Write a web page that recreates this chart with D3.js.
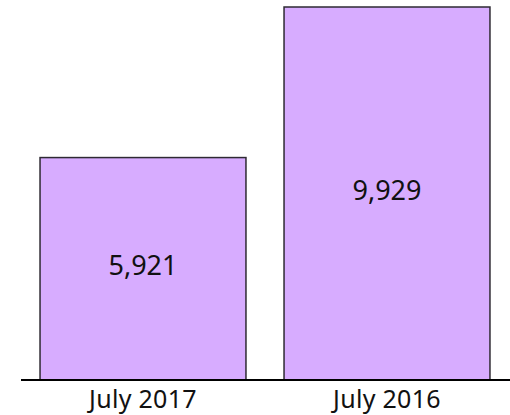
<!DOCTYPE html>
<html>
<head>
<meta charset="utf-8">
<script src="https://cdn.jsdelivr.net/npm/d3@7"></script>
<style>
  body { margin: 0; background: #fff; }
  text { font-family: "Noto Sans", "Open Sans", sans-serif; fill: #111; }
</style>
</head>
<body>
<div id="chart"></div>
<script>
const width = 510, height = 415;

// data
const categories = ["July 2017", "July 2016"];
const values = [5921, 9929];

const baseY = 380;

const svg = d3.select("#chart")
  .append("svg")
  .attr("width", width)
  .attr("height", height);

const x = d3.scaleBand()
  .domain(categories)
  .range([21, 509])
  .paddingInner(0.156)
  .paddingOuter(0.078);

const y = d3.scaleLinear()
  .domain([0, d3.max(values)])
  .range([baseY, 7]);

const fmt = d3.format(",");

// bars
svg.selectAll(".bar")
  .data(values)
  .enter().append("rect")
  .attr("class", "bar")
  .attr("x", (d, i) => x(categories[i]))
  .attr("y", d => y(d))
  .attr("width", x.bandwidth())
  .attr("height", d => baseY - y(d))
  .attr("fill", "#d7acff")
  .attr("stroke", "#2e2a33")
  .attr("stroke-width", 1.5);

// value labels in the middle of each bar
svg.selectAll(".val")
  .data(values)
  .enter().append("text")
  .attr("class", "val")
  .attr("x", (d, i) => x(categories[i]) + x.bandwidth() / 2)
  .attr("y", d => (y(d) + baseY) / 2 + 6)
  .attr("text-anchor", "middle")
  .attr("font-size", 27)
  .text(d => fmt(d));

// baseline
svg.append("line")
  .attr("x1", 21).attr("x2", width)
  .attr("y1", baseY).attr("y2", baseY)
  .attr("stroke", "#000")
  .attr("stroke-width", 2);

// category labels
svg.selectAll(".cat")
  .data(categories)
  .enter().append("text")
  .attr("class", "cat")
  .attr("x", d => x(d) + x.bandwidth() / 2)
  .attr("y", 408)
  .attr("text-anchor", "middle")
  .attr("font-size", 25)
  .style("letter-spacing", "0.3px")
  .text(d => d);
</script>
</body>
</html>
